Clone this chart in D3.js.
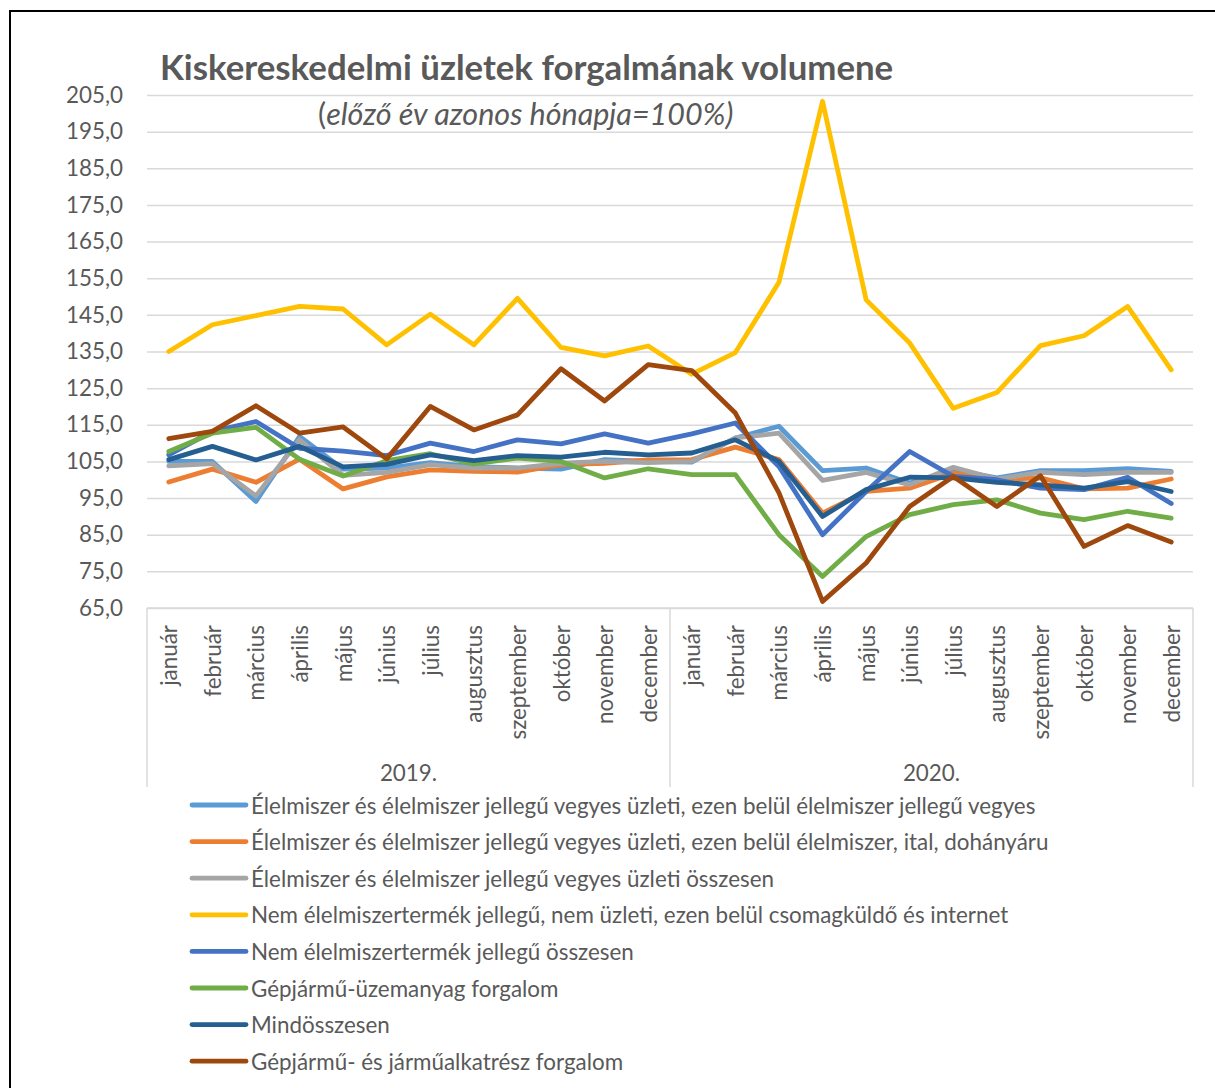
<!DOCTYPE html>
<html>
<head>
<meta charset="utf-8">
<script src="https://cdn.jsdelivr.net/npm/d3@7"></script>
<style>
  body { margin: 0; background: #fff; }
  svg { display: block; font-family: Lato, "Open Sans", sans-serif; }
</style>
</head>
<body>
<div id="chart"></div>
<script>
var months = ['január', 'február', 'március', 'április', 'május', 'június', 'július', 'augusztus', 'szeptember', 'október', 'november', 'december'];
var years = ['2019.', '2020.'];
var yTicks = [65, 75, 85, 95, 105, 115, 125, 135, 145, 155, 165, 175, 185, 195, 205];

var seriesNames = [
  'Élelmiszer és élelmiszer jellegű vegyes üzleti, ezen belül élelmiszer jellegű vegyes',
  'Élelmiszer és élelmiszer jellegű vegyes üzleti, ezen belül élelmiszer, ital, dohányáru',
  'Élelmiszer és élelmiszer jellegű vegyes üzleti összesen',
  'Nem élelmiszertermék jellegű, nem üzleti, ezen belül csomagküldő és internet',
  'Nem élelmiszertermék jellegű összesen',
  'Gépjármű-üzemanyag forgalom',
  'Mindösszesen',
  'Gépjármű- és járműalkatrész forgalom'
];
var seriesColors = ['#5B9BD5', '#ED7D31', '#A5A5A5', '#FFC000', '#4472C4', '#70AD47', '#255E91', '#9E480E'];

var elelmiszerVegyes = [105.0, 105.0, 94.1, 111.8, 102.9, 103.2, 104.7, 103.6, 103.2, 102.9, 105.5, 105.0, 104.8, 111.4, 114.6, 102.5, 103.2, 99.1, 102.7, 100.5, 102.5, 102.5, 103.0, 102.3];
var elelmiszerItal = [99.4, 102.9, 99.3, 105.6, 97.5, 100.8, 102.7, 102.3, 102.1, 104.1, 104.5, 105.4, 105.5, 108.9, 105.5, 90.9, 96.8, 97.7, 101.8, 100.0, 100.5, 97.5, 97.7, 100.2];
var elelmiszerOsszesen = [103.8, 104.4, 95.6, 110.9, 101.2, 102.0, 104.1, 103.2, 103.2, 104.5, 105.0, 104.7, 105.0, 111.4, 112.7, 99.8, 102.0, 98.6, 103.4, 100.2, 102.0, 101.4, 102.0, 102.0];
var csomagkuldo = [135.0, 142.3, 144.8, 147.3, 146.6, 136.8, 145.2, 136.8, 149.5, 136.1, 133.8, 136.5, 128.8, 134.7, 153.9, 203.3, 149.1, 137.3, 119.5, 123.8, 136.6, 139.3, 147.3, 130.0];
var nemElelmiszer = [106.8, 113.2, 115.9, 108.6, 107.8, 106.6, 110.0, 107.7, 110.9, 109.8, 112.5, 110.0, 112.5, 115.5, 103.6, 85.0, 96.8, 107.7, 100.9, 100.0, 97.7, 97.3, 100.7, 93.5];
var uzemanyag = [107.7, 112.7, 114.3, 105.6, 101.0, 105.2, 107.1, 104.3, 105.9, 105.0, 100.5, 103.0, 101.4, 101.4, 85.0, 73.6, 84.5, 90.5, 93.2, 94.5, 90.9, 89.1, 91.4, 89.5];
var mindosszesen = [105.5, 109.1, 105.4, 109.1, 103.5, 104.2, 106.8, 105.2, 106.6, 106.2, 107.5, 106.8, 107.3, 110.9, 105.0, 90.0, 97.3, 100.7, 100.5, 99.3, 98.6, 97.7, 99.5, 96.8];
var alkatresz = [111.2, 113.2, 120.2, 112.7, 114.4, 105.7, 120.0, 113.6, 117.7, 130.3, 121.5, 131.4, 129.8, 118.2, 96.4, 66.8, 77.3, 92.7, 100.9, 92.7, 101.1, 81.8, 87.5, 83.0];

var allSeries = [elelmiszerVegyes, elelmiszerItal, elelmiszerOsszesen, csomagkuldo, nemElelmiszer, uzemanyag, mindosszesen, alkatresz];

var width = 1215, height = 1088;
var plotLeft = 147, plotRight = 1193, plotTop = 95, plotBottom = 608;
var textColor = '#595959';
var gridColor = '#D9D9D9';
var labelSize = '22.4px';

var keys = [];
years.forEach(function (yr) { months.forEach(function (m) { keys.push(yr + m); }); });

var x = d3.scaleBand().domain(keys).range([plotLeft, plotRight]);
var y = d3.scaleLinear().domain([65, 205]).range([plotBottom, plotTop]);

var svg = d3.select('#chart').append('svg')
  .attr('width', width)
  .attr('height', height);

// frame
svg.append('path')
  .attr('d', 'M10,' + (height + 5) + 'V11H' + (width + 5))
  .attr('fill', 'none')
  .attr('stroke', '#000')
  .attr('stroke-width', 2);

// y axis + grid
var yAxis = svg.append('g')
  .attr('transform', 'translate(' + plotLeft + ',0)')
  .call(d3.axisLeft(y)
    .tickValues(yTicks)
    .tickSize(-(plotRight - plotLeft))
    .tickPadding(24)
    .tickFormat(function (d) { return d.toFixed(1).replace('.', ','); }));
yAxis.select('.domain').remove();
yAxis.selectAll('line').attr('stroke', gridColor).attr('stroke-width', 1.5);
yAxis.selectAll('text')
  .attr('fill', textColor)
  .style('font-size', labelSize)
  .style('font-family', 'Lato, sans-serif');

// category box
var catGroup = svg.append('g');
catGroup.append('line')
  .attr('x1', plotLeft).attr('x2', plotRight)
  .attr('y1', plotBottom).attr('y2', plotBottom)
  .attr('stroke', gridColor).attr('stroke-width', 1.5);
var dividers = [plotLeft, x(years[1] + months[0]), plotRight];
catGroup.selectAll('.div')
  .data(dividers)
  .enter()
  .append('line')
  .attr('x1', function (d) { return d; })
  .attr('x2', function (d) { return d; })
  .attr('y1', plotBottom).attr('y2', 787)
  .attr('stroke', gridColor).attr('stroke-width', 1.5);

catGroup.selectAll('.month')
  .data(keys)
  .enter()
  .append('text')
  .attr('transform', function (d) {
    return 'translate(' + (x(d) + x.bandwidth() / 2) + ',625) rotate(-90)';
  })
  .attr('text-anchor', 'end')
  .attr('dominant-baseline', 'central')
  .attr('fill', textColor)
  .style('font-size', labelSize)
  .text(function (d) { return d.slice(5); });

catGroup.selectAll('.year')
  .data(years)
  .enter()
  .append('text')
  .attr('x', function (d, i) { return (dividers[i] + dividers[i + 1]) / 2; })
  .attr('y', 772)
  .attr('text-anchor', 'middle')
  .attr('dominant-baseline', 'central')
  .attr('fill', textColor)
  .style('font-size', labelSize)
  .text(function (d) { return d; });

// lines
var line = d3.line()
  .x(function (d, i) { return x(keys[i]) + x.bandwidth() / 2; })
  .y(function (d) { return y(d); });

svg.selectAll('.series')
  .data(allSeries)
  .enter()
  .append('path')
  .attr('class', 'series')
  .attr('d', line)
  .attr('fill', 'none')
  .attr('stroke', function (d, i) { return seriesColors[i]; })
  .attr('stroke-width', 4.8)
  .attr('stroke-linejoin', 'round')
  .attr('stroke-linecap', 'round');

// title
svg.append('text')
  .attr('x', 160)
  .attr('y', 80)
  .attr('fill', textColor)
  .style('font-size', '34.8px')
  .style('font-weight', 'bold')
  .text('Kiskereskedelmi üzletek forgalmának volumene');

var sub = svg.append('text')
  .attr('x', 318)
  .attr('y', 125)
  .attr('fill', textColor)
  .style('font-size', '30.5px');
sub.append('tspan').text('(');
sub.append('tspan').style('font-style', 'italic').text('előző év azonos hónapja=100%)');

// legend
var legendRow = 36.6;
var legend = svg.selectAll('.legend')
  .data(seriesNames)
  .enter()
  .append('g')
  .attr('class', 'legend')
  .attr('transform', function (d, i) { return 'translate(0,' + (805 + i * legendRow) + ')'; });
legend.append('line')
  .attr('x1', 192).attr('x2', 246)
  .attr('stroke', function (d, i) { return seriesColors[i]; })
  .attr('stroke-width', 4.8)
  .attr('stroke-linecap', 'round');
legend.append('text')
  .attr('x', 251)
  .attr('dominant-baseline', 'central')
  .attr('fill', textColor)
  .style('font-size', labelSize)
  .text(function (d) { return d; });
</script>
</body>
</html>
